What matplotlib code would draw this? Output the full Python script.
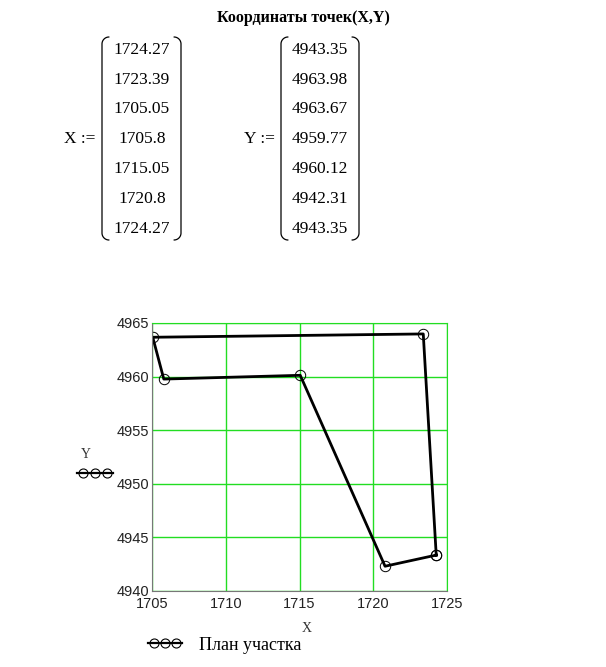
import numpy as np
import matplotlib
matplotlib.use("Agg")
import matplotlib.pyplot as plt

X = [1724.27, 1723.39, 1705.05, 1705.8, 1715.05, 1720.8, 1724.27]
Y = [4943.35, 4963.98, 4963.67, 4959.77, 4960.12, 4942.31, 4943.35]
x_ticks = [1705, 1710, 1715, 1720, 1725]
y_ticks = [4940, 4945, 4950, 4955, 4960, 4965]
title = "Координаты точек(X,Y)"
legend_label = "План участка"

W, H = 606, 667
fig = plt.figure(figsize=(W / 100, H / 100), dpi=100)
serif = ["Liberation Serif", "DejaVu Serif"]
sans = ["Liberation Sans", "DejaVu Sans"]

# overlay in pixel coordinates
ov = fig.add_axes([0, 0, 1, 1])
ov.set_xlim(0, W)
ov.set_ylim(H, 0)
ov.axis("off")

ov.text(303, 18, title, ha="center", va="center", fontsize=11.5,
        fontweight="bold", family=serif)

def paren(cx, top, bot, left=True):
    r = 7
    sgn = 1 if left else -1
    t = np.linspace(0, np.pi / 2, 20)
    x_top = cx + sgn * r * (1 - np.sin(t))
    y_top = top + r * (1 - np.cos(t))
    x_bot = (cx + sgn * r * (1 - np.sin(t)))[::-1]
    y_bot = (bot - r * (1 - np.cos(t)))[::-1]
    xs = np.concatenate([x_top, x_bot])
    ys = np.concatenate([y_top, y_bot])
    ov.plot(xs, ys, color="black", lw=0.9, solid_capstyle="round")

row_y = [50, 80, 109, 139, 169, 199, 229]
# X matrix
ov.text(95, 139, "X :=", ha="right", va="center", fontsize=12.5, family=serif)
paren(102, 37, 240, left=True)
paren(181, 37, 240, left=False)
for yy, v in zip(row_y, X):
    ov.text(142, yy, f"{v:g}", ha="center", va="center", fontsize=12.5, family=serif)
# Y matrix
ov.text(275, 139, "Y :=", ha="right", va="center", fontsize=12.5, family=serif)
paren(281, 37, 240, left=True)
paren(359, 37, 240, left=False)
for yy, v in zip(row_y, Y):
    ov.text(320, yy, f"{v:g}", ha="center", va="center", fontsize=12.5, family=serif)

# main plot
ax = fig.add_axes([152 / W, 1 - 591 / H, 295 / W, 268 / H])
ax.plot(X, Y, color="black", lw=2.0, marker="o", markersize=7.5,
        markerfacecolor="none", markeredgecolor="black", markeredgewidth=0.7)
ax.set_xlim(1705, 1725)
ax.set_ylim(4940, 4965)
ax.set_xticks(x_ticks)
ax.set_yticks(y_ticks)
ax.grid(True, color="#22dd22", lw=1.0)
ax.set_axisbelow(True)
ax.tick_params(length=0, labelsize=10.5)
ax.tick_params(axis="x", pad=4)
ax.tick_params(axis="y", pad=2)
for lab in ax.get_xticklabels() + ax.get_yticklabels():
    lab.set_family(sans)
    lab.set_color("#222222")
for s in ["left", "bottom"]:
    ax.spines[s].set_color("#777777")
for s in ["top", "right"]:
    ax.spines[s].set_color("#22dd22")

# axis labels with trace glyphs
ov.text(307, 628, "X", ha="center", va="center", fontsize=10, family=serif, color="#333333")
ov.text(86, 455, "Y", ha="center", va="center", fontsize=10, family=serif, color="#333333")
ov.plot([77, 113], [473, 473], color="black", lw=1.6)
ov.plot([83, 95, 107], [473, 473, 473], ls="none", marker="o", markersize=6.5,
        markerfacecolor="none", markeredgecolor="black", markeredgewidth=0.8)
ov.plot([148, 182], [643, 643], color="black", lw=1.6)
ov.plot([154, 165, 176], [643, 643, 643], ls="none", marker="o", markersize=6.5,
        markerfacecolor="none", markeredgecolor="black", markeredgewidth=0.8)
ov.text(199, 645, legend_label, ha="left", va="center", fontsize=13, family=serif)

fig.savefig("out.png", dpi=100)
